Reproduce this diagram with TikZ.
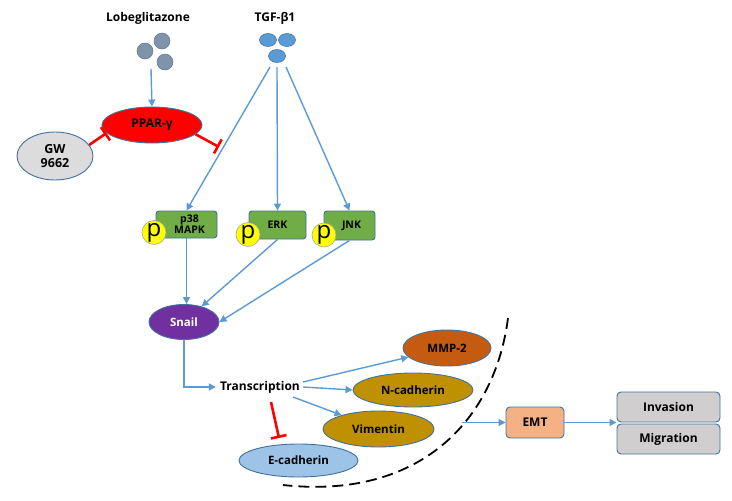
\documentclass[tikz,border=0pt]{standalone}
\usepackage{fontspec}
\setmainfont{Open Sans}
\usetikzlibrary{arrows.meta,shapes.geometric}
\definecolor{arrblue}{HTML}{5B9BD5}
\definecolor{bordblue}{HTML}{41719C}
\definecolor{inhred}{HTML}{FF0000}
\definecolor{pparred}{HTML}{FF0000}
\definecolor{gwgray}{HTML}{DCDCDC}
\definecolor{lobegray}{HTML}{7F93AB}
\definecolor{tgfblue}{HTML}{5B9BD5}
\definecolor{kgreen}{HTML}{70AD47}
\definecolor{pyellow}{HTML}{FFFF00}
\definecolor{snailpurple}{HTML}{7030A0}
\definecolor{mmporange}{HTML}{C55A11}
\definecolor{cadgold}{HTML}{BF9000}
\definecolor{ecadblue}{HTML}{9DC3E6}
\definecolor{emtorange}{HTML}{F4B183}
\definecolor{outgray}{HTML}{D0CECE}
\tikzset{
  lbl/.style={font=\fontsize{12}{14}\selectfont\bfseries, inner sep=1pt},
  ell/.style={ellipse, draw=bordblue, line width=0.9pt, inner sep=0pt, font=\fontsize{11.5}{13}\selectfont\bfseries, align=center},
  kbox/.style={rectangle, rounded corners=3pt, draw=bordblue, line width=0.9pt, fill=kgreen, inner sep=0pt, font=\fontsize{10.5}{11}\selectfont\bfseries, align=center},
  rbox/.style={rectangle, rounded corners=4pt, draw=bordblue, line width=0.9pt, inner sep=0pt, font=\fontsize{12}{14}\selectfont\bfseries},
  pcirc/.style={circle, draw=gray!70, line width=0.6pt, fill=pyellow, minimum size=24pt, inner sep=0pt, font=\fontsize{24}{24}\selectfont},
  lcirc/.style={circle, draw=lobegray!80!black, line width=0.5pt, fill=lobegray, minimum size=16pt, inner sep=0pt},
  tcirc/.style={ellipse, draw=bordblue, line width=0.5pt, fill=tgfblue, minimum width=17pt, minimum height=13pt, inner sep=0pt},
  arr/.style={draw=arrblue, line width=1.4pt, -{Triangle[length=7pt,width=7pt]}},
  inh/.style={draw=inhred, line width=2.6pt, -{Bar[width=16pt,line width=2.6pt]}},
  dashline/.style={draw=black, line width=1.8pt, dash pattern=on 11pt off 6pt},
}
\begin{document}
\begin{tikzpicture}[x=1pt,y=-1pt]
\useasboundingbox (0,0) rectangle (732,501);

% Lobeglitazone
\node[lbl] (lobe) at (148,18) {Lobeglitazone};
\node[lcirc] (l1) at (162,41) {};
\node[lcirc] (l2) at (145,51) {};
\node[lcirc] (l3) at (165,62) {};
\coordinate (la) at (151,69);

% TGF-beta1
\node[lbl] (tgf) at (275,18) {TGF-β1};
\node[tcirc] (t1c) at (268,40) {};
\node[tcirc] (t2c) at (287,40) {};
\node[tcirc] (t3c) at (277,56) {};
\coordinate (t1) at (270,67);
\coordinate (t2) at (277,67);
\coordinate (t3) at (286,67);

% PPAR and GW
\node[ell, fill=pparred, minimum width=100pt, minimum height=36pt, font=\fontsize{12}{14}\selectfont\bfseries] (ppar) at (152,125) {PPAR-γ};
\node[ell, fill=gwgray, minimum width=76pt, minimum height=48pt, font=\fontsize{12.5}{14}\selectfont\bfseries] (gw) at (55,156) {GW\\9662};
\coordinate (ib) at (219,147);

% kinases
\node[kbox, minimum width=61pt, minimum height=27pt] (p38) at (186.5,224.5) {\hspace*{6pt}p38\\\hspace*{6pt}MAPK};
\node[kbox, minimum width=57pt, minimum height=28pt] (erk) at (277.5,225) {ERK};
\node[kbox, minimum width=51pt, minimum height=29pt] (jnk) at (349.5,225.5) {\hspace*{4pt}JNK};
\node[pcirc] (p1) at (154,232.5) {\raisebox{2pt}{p}};
\node[pcirc] (p2) at (248,234.5) {\raisebox{2pt}{p}};
\node[pcirc] (p3) at (324,235) {\raisebox{2pt}{p}};

% Snail
\node[ell, fill=snailpurple, text=white, minimum width=70pt, minimum height=35pt] (snail) at (184,322) {Snail};

% Transcription
\node[lbl] (tr) at (260,387) {Transcription};

% targets
\node[ell, fill=mmporange, minimum width=88pt, minimum height=36pt] (mmp) at (447,348) {MMP-2};
\node[ell, fill=cadgold, minimum width=120pt, minimum height=34pt] (ncad) at (413,390) {N-cadherin};
\node[ell, fill=cadgold, minimum width=111pt, minimum height=36pt] (vim) at (378.5,429) {Vimentin};
\node[ell, fill=ecadblue, minimum width=119pt, minimum height=33pt] (ecad) at (298.5,460.5) {E-cadherin};
\coordinate (ti) at (271,402);
\coordinate (te) at (279,438);

% EMT & outcomes
\node[rbox, fill=emtorange, minimum width=58pt, minimum height=31pt] (emt) at (535,422.5) {EMT};
\node[rbox, fill=outgray, minimum width=103pt, minimum height=30pt] (inv) at (668.5,407) {Invasion};
\node[rbox, fill=outgray, minimum width=103pt, minimum height=30pt] (mig) at (668.5,439) {Migration};

% dashed arc
\coordinate (da) at (508,318);
\coordinate (db) at (283,485);
\draw[dashline] (da) .. controls (495,420) and (420,500) .. (db);
\coordinate (arcpt) at (462,422.5);

% connectors
\draw[arr] (la) -- (ppar.north);
\draw[inh] (gw.18) -- (ppar.190);
\draw[inh] (ppar.-12) -- (ib);
\draw[arr] (t1) -- (p38.north);
\draw[arr] (t2) -- (erk.north);
\draw[arr] (t3) -- (jnk.north);
\draw[arr] (p38.south) -- (p38.south |- snail.north);
\draw[arr] (erk.south) -- (snail);
\draw[arr] (jnk.south) -- (snail.east);
\draw[arr] (snail.south) |- ([xshift=-3pt]tr.west);
\draw[arr] ([xshift=2pt,yshift=5pt]tr.east) -- (mmp);
\draw[arr] ([xshift=2pt]tr.east) -- (ncad.west);
\draw[arr] ([xshift=-8pt,yshift=-10pt]tr.east) -- (vim);
\draw[inh] (ti) -- (te);
\draw[arr] (arcpt) -- (emt.west);
\draw[arr] (emt.east) -- (emt.east -| inv.west);
\end{tikzpicture}
\end{document}
